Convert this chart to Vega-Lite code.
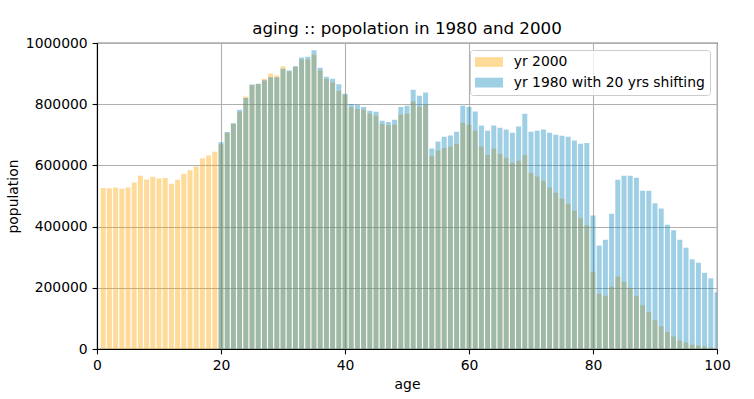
{
  "$schema": "https://vega.github.io/schema/vega-lite/v6.json",
  "width": 620,
  "height": 306,
  "autosize": {"type": "none"},
  "padding": {"left": 97, "top": 43, "right": 37, "bottom": 50},
  "background": "white",
  "title": {
    "text": "aging :: popolation in 1980 and 2000",
    "font": "DejaVu Sans",
    "fontSize": 16.7,
    "fontWeight": "normal",
    "color": "black",
    "anchor": "middle",
    "offset": -2
  },
  "config": {
    "font": "DejaVu Sans",
    "view": {"stroke": "black", "strokeWidth": 1.1},
    "axis": {
      "domainColor": "black",
      "domainWidth": 1.1,
      "tickColor": "black",
      "tickWidth": 1.1,
      "tickSize": 4.9,
      "labelPadding": 4.9,
      "labelFontSize": 13.9,
      "labelColor": "black",
      "labelFont": "DejaVu Sans",
      "titleFont": "DejaVu Sans",
      "titleFontSize": 13.9,
      "titleFontWeight": "normal",
      "titleColor": "black",
      "gridColor": "#b0b0b0",
      "gridWidth": 1.1,
      "gridOpacity": 1,
      "labelFlush": false,
      "zindex": 1
    }
  },
  "data": {
    "values": [
      {"age": 1, "population": 526000, "series": "yr 2000"},
      {"age": 2, "population": 525000, "series": "yr 2000"},
      {"age": 3, "population": 528000, "series": "yr 2000"},
      {"age": 4, "population": 524000, "series": "yr 2000"},
      {"age": 5, "population": 528000, "series": "yr 2000"},
      {"age": 6, "population": 544000, "series": "yr 2000"},
      {"age": 7, "population": 566000, "series": "yr 2000"},
      {"age": 8, "population": 554000, "series": "yr 2000"},
      {"age": 9, "population": 563000, "series": "yr 2000"},
      {"age": 10, "population": 557000, "series": "yr 2000"},
      {"age": 11, "population": 559000, "series": "yr 2000"},
      {"age": 12, "population": 540000, "series": "yr 2000"},
      {"age": 13, "population": 553000, "series": "yr 2000"},
      {"age": 14, "population": 573000, "series": "yr 2000"},
      {"age": 15, "population": 584000, "series": "yr 2000"},
      {"age": 16, "population": 596000, "series": "yr 2000"},
      {"age": 17, "population": 623000, "series": "yr 2000"},
      {"age": 18, "population": 632000, "series": "yr 2000"},
      {"age": 19, "population": 645000, "series": "yr 2000"},
      {"age": 20, "population": 669000, "series": "yr 2000"},
      {"age": 21, "population": 707000, "series": "yr 2000"},
      {"age": 22, "population": 736000, "series": "yr 2000"},
      {"age": 23, "population": 775000, "series": "yr 2000"},
      {"age": 24, "population": 825000, "series": "yr 2000"},
      {"age": 25, "population": 863000, "series": "yr 2000"},
      {"age": 26, "population": 866000, "series": "yr 2000"},
      {"age": 27, "population": 883000, "series": "yr 2000"},
      {"age": 28, "population": 900000, "series": "yr 2000"},
      {"age": 29, "population": 894000, "series": "yr 2000"},
      {"age": 30, "population": 924000, "series": "yr 2000"},
      {"age": 31, "population": 908000, "series": "yr 2000"},
      {"age": 32, "population": 922000, "series": "yr 2000"},
      {"age": 33, "population": 946000, "series": "yr 2000"},
      {"age": 34, "population": 947000, "series": "yr 2000"},
      {"age": 35, "population": 962000, "series": "yr 2000"},
      {"age": 36, "population": 911000, "series": "yr 2000"},
      {"age": 37, "population": 882000, "series": "yr 2000"},
      {"age": 38, "population": 871000, "series": "yr 2000"},
      {"age": 39, "population": 843000, "series": "yr 2000"},
      {"age": 40, "population": 831000, "series": "yr 2000"},
      {"age": 41, "population": 790000, "series": "yr 2000"},
      {"age": 42, "population": 784000, "series": "yr 2000"},
      {"age": 43, "population": 782000, "series": "yr 2000"},
      {"age": 44, "population": 770000, "series": "yr 2000"},
      {"age": 45, "population": 762000, "series": "yr 2000"},
      {"age": 46, "population": 735000, "series": "yr 2000"},
      {"age": 47, "population": 731000, "series": "yr 2000"},
      {"age": 48, "population": 733000, "series": "yr 2000"},
      {"age": 49, "population": 766000, "series": "yr 2000"},
      {"age": 50, "population": 769000, "series": "yr 2000"},
      {"age": 51, "population": 809000, "series": "yr 2000"},
      {"age": 52, "population": 792000, "series": "yr 2000"},
      {"age": 53, "population": 798000, "series": "yr 2000"},
      {"age": 54, "population": 630000, "series": "yr 2000"},
      {"age": 55, "population": 649000, "series": "yr 2000"},
      {"age": 56, "population": 657000, "series": "yr 2000"},
      {"age": 57, "population": 662000, "series": "yr 2000"},
      {"age": 58, "population": 670000, "series": "yr 2000"},
      {"age": 59, "population": 739000, "series": "yr 2000"},
      {"age": 60, "population": 733000, "series": "yr 2000"},
      {"age": 61, "population": 713000, "series": "yr 2000"},
      {"age": 62, "population": 662000, "series": "yr 2000"},
      {"age": 63, "population": 634000, "series": "yr 2000"},
      {"age": 64, "population": 655000, "series": "yr 2000"},
      {"age": 65, "population": 638000, "series": "yr 2000"},
      {"age": 66, "population": 625000, "series": "yr 2000"},
      {"age": 67, "population": 609000, "series": "yr 2000"},
      {"age": 68, "population": 615000, "series": "yr 2000"},
      {"age": 69, "population": 633000, "series": "yr 2000"},
      {"age": 70, "population": 576000, "series": "yr 2000"},
      {"age": 71, "population": 564000, "series": "yr 2000"},
      {"age": 72, "population": 550000, "series": "yr 2000"},
      {"age": 73, "population": 528000, "series": "yr 2000"},
      {"age": 74, "population": 511000, "series": "yr 2000"},
      {"age": 75, "population": 492000, "series": "yr 2000"},
      {"age": 76, "population": 475000, "series": "yr 2000"},
      {"age": 77, "population": 452000, "series": "yr 2000"},
      {"age": 78, "population": 427000, "series": "yr 2000"},
      {"age": 79, "population": 404000, "series": "yr 2000"},
      {"age": 80, "population": 252000, "series": "yr 2000"},
      {"age": 81, "population": 181000, "series": "yr 2000"},
      {"age": 82, "population": 174000, "series": "yr 2000"},
      {"age": 83, "population": 204000, "series": "yr 2000"},
      {"age": 84, "population": 237000, "series": "yr 2000"},
      {"age": 85, "population": 220000, "series": "yr 2000"},
      {"age": 86, "population": 200000, "series": "yr 2000"},
      {"age": 87, "population": 174000, "series": "yr 2000"},
      {"age": 88, "population": 143000, "series": "yr 2000"},
      {"age": 89, "population": 120000, "series": "yr 2000"},
      {"age": 90, "population": 94000, "series": "yr 2000"},
      {"age": 91, "population": 74000, "series": "yr 2000"},
      {"age": 92, "population": 56000, "series": "yr 2000"},
      {"age": 93, "population": 41000, "series": "yr 2000"},
      {"age": 94, "population": 28000, "series": "yr 2000"},
      {"age": 95, "population": 21000, "series": "yr 2000"},
      {"age": 96, "population": 14000, "series": "yr 2000"},
      {"age": 97, "population": 11000, "series": "yr 2000"},
      {"age": 98, "population": 8000, "series": "yr 2000"},
      {"age": 99, "population": 5000, "series": "yr 2000"},
      {"age": 100, "population": 3000, "series": "yr 2000"},
      {"age": 20, "population": 676000, "series": "yr 1980 with 20 yrs shifting"},
      {"age": 21, "population": 709000, "series": "yr 1980 with 20 yrs shifting"},
      {"age": 22, "population": 738000, "series": "yr 1980 with 20 yrs shifting"},
      {"age": 23, "population": 782000, "series": "yr 1980 with 20 yrs shifting"},
      {"age": 24, "population": 820000, "series": "yr 1980 with 20 yrs shifting"},
      {"age": 25, "population": 864000, "series": "yr 1980 with 20 yrs shifting"},
      {"age": 26, "population": 867000, "series": "yr 1980 with 20 yrs shifting"},
      {"age": 27, "population": 878000, "series": "yr 1980 with 20 yrs shifting"},
      {"age": 28, "population": 888000, "series": "yr 1980 with 20 yrs shifting"},
      {"age": 29, "population": 888000, "series": "yr 1980 with 20 yrs shifting"},
      {"age": 30, "population": 916000, "series": "yr 1980 with 20 yrs shifting"},
      {"age": 31, "population": 910000, "series": "yr 1980 with 20 yrs shifting"},
      {"age": 32, "population": 924000, "series": "yr 1980 with 20 yrs shifting"},
      {"age": 33, "population": 953000, "series": "yr 1980 with 20 yrs shifting"},
      {"age": 34, "population": 955000, "series": "yr 1980 with 20 yrs shifting"},
      {"age": 35, "population": 976000, "series": "yr 1980 with 20 yrs shifting"},
      {"age": 36, "population": 919000, "series": "yr 1980 with 20 yrs shifting"},
      {"age": 37, "population": 890000, "series": "yr 1980 with 20 yrs shifting"},
      {"age": 38, "population": 883000, "series": "yr 1980 with 20 yrs shifting"},
      {"age": 39, "population": 865000, "series": "yr 1980 with 20 yrs shifting"},
      {"age": 40, "population": 834000, "series": "yr 1980 with 20 yrs shifting"},
      {"age": 41, "population": 801000, "series": "yr 1980 with 20 yrs shifting"},
      {"age": 42, "population": 798000, "series": "yr 1980 with 20 yrs shifting"},
      {"age": 43, "population": 791000, "series": "yr 1980 with 20 yrs shifting"},
      {"age": 44, "population": 779000, "series": "yr 1980 with 20 yrs shifting"},
      {"age": 45, "population": 775000, "series": "yr 1980 with 20 yrs shifting"},
      {"age": 46, "population": 746000, "series": "yr 1980 with 20 yrs shifting"},
      {"age": 47, "population": 742000, "series": "yr 1980 with 20 yrs shifting"},
      {"age": 48, "population": 749000, "series": "yr 1980 with 20 yrs shifting"},
      {"age": 49, "population": 791000, "series": "yr 1980 with 20 yrs shifting"},
      {"age": 50, "population": 795000, "series": "yr 1980 with 20 yrs shifting"},
      {"age": 51, "population": 847000, "series": "yr 1980 with 20 yrs shifting"},
      {"age": 52, "population": 828000, "series": "yr 1980 with 20 yrs shifting"},
      {"age": 53, "population": 838000, "series": "yr 1980 with 20 yrs shifting"},
      {"age": 54, "population": 655000, "series": "yr 1980 with 20 yrs shifting"},
      {"age": 55, "population": 678000, "series": "yr 1980 with 20 yrs shifting"},
      {"age": 56, "population": 694000, "series": "yr 1980 with 20 yrs shifting"},
      {"age": 57, "population": 698000, "series": "yr 1980 with 20 yrs shifting"},
      {"age": 58, "population": 710000, "series": "yr 1980 with 20 yrs shifting"},
      {"age": 59, "population": 795000, "series": "yr 1980 with 20 yrs shifting"},
      {"age": 60, "population": 791000, "series": "yr 1980 with 20 yrs shifting"},
      {"age": 61, "population": 776000, "series": "yr 1980 with 20 yrs shifting"},
      {"age": 62, "population": 730000, "series": "yr 1980 with 20 yrs shifting"},
      {"age": 63, "population": 713000, "series": "yr 1980 with 20 yrs shifting"},
      {"age": 64, "population": 730000, "series": "yr 1980 with 20 yrs shifting"},
      {"age": 65, "population": 723000, "series": "yr 1980 with 20 yrs shifting"},
      {"age": 66, "population": 717000, "series": "yr 1980 with 20 yrs shifting"},
      {"age": 67, "population": 707000, "series": "yr 1980 with 20 yrs shifting"},
      {"age": 68, "population": 727000, "series": "yr 1980 with 20 yrs shifting"},
      {"age": 69, "population": 769000, "series": "yr 1980 with 20 yrs shifting"},
      {"age": 70, "population": 710000, "series": "yr 1980 with 20 yrs shifting"},
      {"age": 71, "population": 713000, "series": "yr 1980 with 20 yrs shifting"},
      {"age": 72, "population": 717000, "series": "yr 1980 with 20 yrs shifting"},
      {"age": 73, "population": 707000, "series": "yr 1980 with 20 yrs shifting"},
      {"age": 74, "population": 700000, "series": "yr 1980 with 20 yrs shifting"},
      {"age": 75, "population": 697000, "series": "yr 1980 with 20 yrs shifting"},
      {"age": 76, "population": 694000, "series": "yr 1980 with 20 yrs shifting"},
      {"age": 77, "population": 681000, "series": "yr 1980 with 20 yrs shifting"},
      {"age": 78, "population": 671000, "series": "yr 1980 with 20 yrs shifting"},
      {"age": 79, "population": 673000, "series": "yr 1980 with 20 yrs shifting"},
      {"age": 80, "population": 436000, "series": "yr 1980 with 20 yrs shifting"},
      {"age": 81, "population": 338000, "series": "yr 1980 with 20 yrs shifting"},
      {"age": 82, "population": 357000, "series": "yr 1980 with 20 yrs shifting"},
      {"age": 83, "population": 442000, "series": "yr 1980 with 20 yrs shifting"},
      {"age": 84, "population": 553000, "series": "yr 1980 with 20 yrs shifting"},
      {"age": 85, "population": 566000, "series": "yr 1980 with 20 yrs shifting"},
      {"age": 86, "population": 566000, "series": "yr 1980 with 20 yrs shifting"},
      {"age": 87, "population": 560000, "series": "yr 1980 with 20 yrs shifting"},
      {"age": 88, "population": 517000, "series": "yr 1980 with 20 yrs shifting"},
      {"age": 89, "population": 517000, "series": "yr 1980 with 20 yrs shifting"},
      {"age": 90, "population": 476000, "series": "yr 1980 with 20 yrs shifting"},
      {"age": 91, "population": 459000, "series": "yr 1980 with 20 yrs shifting"},
      {"age": 92, "population": 406000, "series": "yr 1980 with 20 yrs shifting"},
      {"age": 93, "population": 388000, "series": "yr 1980 with 20 yrs shifting"},
      {"age": 94, "population": 357000, "series": "yr 1980 with 20 yrs shifting"},
      {"age": 95, "population": 331000, "series": "yr 1980 with 20 yrs shifting"},
      {"age": 96, "population": 293000, "series": "yr 1980 with 20 yrs shifting"},
      {"age": 97, "population": 282000, "series": "yr 1980 with 20 yrs shifting"},
      {"age": 98, "population": 249000, "series": "yr 1980 with 20 yrs shifting"},
      {"age": 99, "population": 231000, "series": "yr 1980 with 20 yrs shifting"},
      {"age": 100, "population": 185000, "series": "yr 1980 with 20 yrs shifting"}
    ]
  },
  "mark": {"type": "bar", "size": 5, "opacity": 0.4, "orient": "vertical", "clip": true, "strokeWidth": 0},
  "encoding": {
    "x": {
      "field": "age",
      "type": "quantitative",
      "scale": {"domain": [0, 100], "nice": false, "zero": false, "padding": 0},
      "axis": {"values": [0, 20, 40, 60, 80, 100], "title": "age", "titlePadding": 5}
    },
    "y": {
      "field": "population",
      "type": "quantitative",
      "stack": null,
      "scale": {"domain": [0, 1000000], "nice": false, "padding": 0},
      "axis": {"values": [0, 200000, 400000, 600000, 800000, 1000000], "format": "d", "title": "population", "titlePadding": 5}
    },
    "color": {
      "field": "series",
      "type": "nominal",
      "scale": {"domain": ["yr 2000", "yr 1980 with 20 yrs shifting"], "range": ["#FFA500", "#0C87BB"]},
      "legend": {
        "title": null,
        "orient": "top-right",
        "offset": 7,
        "padding": 5,
        "fillColor": "rgba(255,255,255,0.8)",
        "strokeColor": "#cccccc",
        "cornerRadius": 3,
        "symbolType": "M-1,-0.7H3V0.7H-1Z",
        "symbolSize": 196,
        "symbolStrokeWidth": 0,
        "symbolOpacity": 0.4,
        "labelFontSize": 13.9,
        "labelFont": "DejaVu Sans",
        "labelColor": "black",
        "labelOffset": 24.7,
        "labelLimit": 400,
        "rowPadding": 6.6,
        "zindex": 2
      }
    },
    "order": {"field": "series", "sort": "descending"}
  }
}
